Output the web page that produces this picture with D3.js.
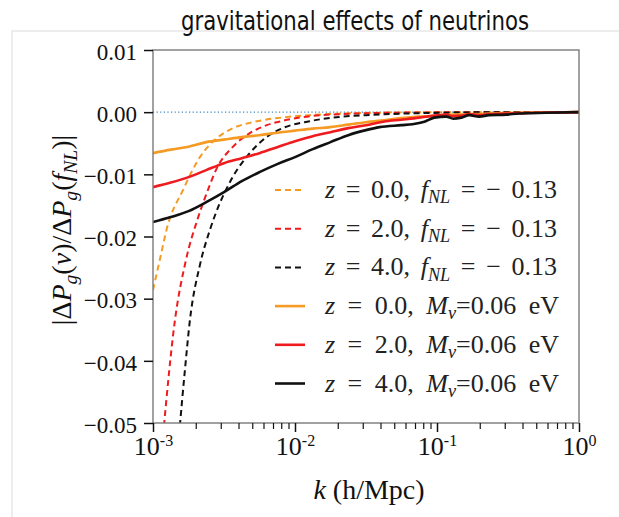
<!DOCTYPE html>
<html>
<head>
<meta charset="utf-8">
<script src="https://cdn.jsdelivr.net/npm/d3@7"></script>
<style>
  body { margin: 0; background: #fff; }
  svg { display: block; }
</style>
</head>
<body>
<svg id="chart" width="619" height="517"></svg>
<script>
// values: k in h/Mpc, y = fractional difference
var kOrangeDash = [0.001, 0.00112, 0.001254, 0.001625, 0.002139, 0.002817, 0.003648, 0.004802, 0.006324, 0.008193, 0.01268, 0.0206, 0.03346, 0.05437, 0.1221, 1];
var vOrangeDash = [-0.02862, -0.02363, -0.01865, -0.01254, -0.00723, -0.00418, -0.00257, -0.00172, -0.00118, -0.00085, -0.00048, -0.00024, -0.00011, -0.00005, 0, 0];

var kRedDash = [0.001176, 0.001428, 0.001706, 0.002071, 0.002434, 0.002817, 0.003648, 0.004802, 0.006324, 0.008193, 0.01268, 0.0206, 0.03346, 0.07513, 0.1984, 1];
var vRedDash = [-0.05209, -0.03344, -0.02379, -0.01704, -0.01254, -0.009, -0.00558, -0.00338, -0.00209, -0.0014, -0.00064, -0.00032, -0.00016, -0.00005, 0, 0];

var kBlackDash = [0.001523, 0.001678, 0.00182, 0.002139, 0.002514, 0.002956, 0.003311, 0.003648, 0.004802, 0.006324, 0.008193, 0.01268, 0.0206, 0.03513, 0.06088, 0.1221, 0.2742, 1];
var vBlackDash = [-0.05209, -0.04148, -0.03344, -0.0246, -0.01897, -0.01463, -0.01222, -0.0104, -0.00659, -0.00397, -0.00257, -0.00145, -0.00076, -0.00043, -0.00021, -0.00008, 0, 0];

var kOrangeSolid = [0.001, 0.001334, 0.001779, 0.002372, 0.003164, 0.00422, 0.005619, 0.007494, 0.01, 0.01334, 0.01778, 0.02371, 0.03162, 0.04198, 0.05618, 0.07513, 0.1, 0.1324, 0.1772, 0.2332, 0.3171, 0.5586, 1];
var vOrangeSolid = [-0.00659, -0.00603, -0.00555, -0.00482, -0.00442, -0.00402, -0.0037, -0.0033, -0.00297, -0.00265, -0.00241, -0.00201, -0.00161, -0.00129, -0.00096, -0.00072, -0.00056, -0.0004, -0.00032, -0.00024, -0.00016, -0.00005, 0];

var kRedSolid = [0.001, 0.001334, 0.001779, 0.002372, 0.003164, 0.00422, 0.005619, 0.007494, 0.01, 0.01334, 0.01778, 0.02371, 0.03162, 0.04198, 0.05618, 0.07513, 0.09579, 0.1163, 0.1302, 0.1483, 0.1687, 0.1984, 0.2332, 0.3071, 0.3789, 0.5864, 1];
var vRedSolid = [-0.01206, -0.01133, -0.01045, -0.00932, -0.0082, -0.0074, -0.00659, -0.00563, -0.00466, -0.00386, -0.00322, -0.00257, -0.00209, -0.00153, -0.00121, -0.00088, -0.00056, -0.0004, -0.00064, -0.00056, -0.00032, -0.00048, -0.00032, -0.00024, -0.00016, -0.00008, 0];

var kBlackSolid = [0.001, 0.001334, 0.001779, 0.002372, 0.003164, 0.00422, 0.005619, 0.007494, 0.01, 0.01334, 0.01778, 0.02371, 0.03162, 0.03935, 0.05618, 0.0671, 0.08149, 0.09579, 0.1163, 0.1302, 0.1483, 0.1687, 0.1984, 0.2332, 0.3071, 0.3789, 0.5864, 1];
var vBlackSolid = [-0.01768, -0.01688, -0.01592, -0.01447, -0.01286, -0.01109, -0.00965, -0.00836, -0.00723, -0.00595, -0.00482, -0.0037, -0.00289, -0.00241, -0.00209, -0.00193, -0.00153, -0.00088, -0.00072, -0.00105, -0.00088, -0.00048, -0.00072, -0.00048, -0.0004, -0.00021, -0.0001, 0];

var yTicks = [0.01, 0.00, -0.01, -0.02, -0.03, -0.04, -0.05];
var xTicks = [0.001, 0.01, 0.1, 1];
var xExponents = ["-3", "-2", "-1", "0"];

var legendRedshift = ["0.0", "2.0", "4.0", "0.0", "2.0", "4.0"];

var orange = "#f59a23", red = "#ee1c1f", black = "#111";

var series = [
    { k: kOrangeDash, v: vOrangeDash, color: orange, dashed: true, kind: "fnl" },
    { k: kRedDash, v: vRedDash, color: red, dashed: true, kind: "fnl" },
    { k: kBlackDash, v: vBlackDash, color: black, dashed: true, kind: "fnl" },
    { k: kOrangeSolid, v: vOrangeSolid, color: orange, dashed: false, kind: "mnu" },
    { k: kRedSolid, v: vRedSolid, color: red, dashed: false, kind: "mnu" },
    { k: kBlackSolid, v: vBlackSolid, color: black, dashed: false, kind: "mnu" }
];

var svg = d3.select("#chart");
var serif = "'Liberation Serif', 'Times New Roman', serif";

// writes a run of pieces into a text element; sub pieces are lowered with dy
function richText(sel, pieces, fs) {
    var shift = 0;
    pieces.forEach(function (p) {
        var t = sel.append("tspan").text(p.t);
        if (p.i) t.style("font-style", "italic");
        var target = p.sub ? fs * 0.2 : 0;
        if (target !== shift) t.attr("dy", target - shift);
        shift = target;
        if (p.sub) t.style("font-size", (fs * 0.7) + "px");
    });
}

// page frame and title
svg.append("rect")
    .attr("x", 12).attr("y", 31)
    .attr("width", 700).attr("height", 600)
    .attr("fill", "none")
    .attr("stroke", "#dcdcdc")
    .attr("stroke-width", 1);

svg.append("text")
    .attr("x", 355).attr("y", 30)
    .attr("text-anchor", "middle")
    .attr("textLength", 348)
    .attr("lengthAdjust", "spacingAndGlyphs")
    .style("font-family", "'DejaVu Sans', sans-serif")
    .style("font-size", "26px")
    .style("fill", "#111")
    .text("gravitational effects of neutrinos");

var plot = { left: 153, right: 579, top: 50, bottom: 423 };

var x = d3.scaleLog()
    .domain([1e-3, 1])
    .range([plot.left, plot.right]);

var y = d3.scaleLinear()
    .domain([-0.05, 0.01])
    .range([plot.bottom, plot.top]);

svg.append("clipPath").attr("id", "clip")
    .append("rect")
    .attr("x", plot.left).attr("y", plot.top)
    .attr("width", plot.right - plot.left)
    .attr("height", plot.bottom - plot.top);

// zero reference line
svg.append("line")
    .attr("x1", x(1e-3)).attr("x2", x(1))
    .attr("y1", y(0)).attr("y2", y(0))
    .attr("stroke", "#3b87c4")
    .attr("stroke-width", 1.2)
    .attr("stroke-dasharray", "1.2,2.4");

var line = d3.line()
    .x(function (d) { return x(d[0]); })
    .y(function (d) { return y(d[1]); })
    .curve(d3.curveMonotoneX);

var curves = svg.append("g").attr("clip-path", "url(#clip)");

series.forEach(function (s) {
    var pts = s.k.map(function (k, i) { return [k, s.v[i]]; });
    curves.append("path")
        .attr("d", line(pts))
        .attr("fill", "none")
        .attr("stroke", s.color)
        .attr("stroke-width", s.dashed ? 2 : 2.6)
        .attr("stroke-dasharray", s.dashed ? "6,4" : null);
});

// frame
svg.append("rect")
    .attr("x", plot.left).attr("y", plot.top)
    .attr("width", plot.right - plot.left)
    .attr("height", plot.bottom - plot.top)
    .attr("fill", "none")
    .attr("stroke", "#7a7a7a")
    .attr("stroke-width", 1.4);

// y axis
var yAxis = d3.axisLeft(y)
    .tickValues(yTicks)
    .tickSize(9)
    .tickPadding(7)
    .tickFormat(function (d) {
        var s = Math.abs(d).toFixed(2);
        return d < -1e-9 ? "\u2212" + s : s;
    });

var gy = svg.append("g")
    .attr("transform", "translate(" + plot.left + ",0)")
    .call(yAxis);
gy.attr("font-family", null).attr("font-size", null);
gy.select(".domain").remove();
gy.selectAll(".tick line").attr("stroke", "#111").attr("stroke-width", 1.5);
gy.selectAll(".tick text")
    .attr("dy", "0.4em")
    .style("font-family", serif)
    .style("font-size", "23px")
    .style("fill", "#111");

// x axis, minor ticks first
var minorTicks = [];
[0.001, 0.01, 0.1].forEach(function (base) {
    for (var m = 2; m <= 9; m++) minorTicks.push(base * m);
});

var gxMinor = svg.append("g")
    .attr("transform", "translate(0," + plot.bottom + ")")
    .call(d3.axisBottom(x).tickValues(minorTicks).tickSize(6).tickFormat(""));
gxMinor.select(".domain").remove();
gxMinor.selectAll(".tick line").attr("stroke", "#111").attr("stroke-width", 1.2);

var gx = svg.append("g")
    .attr("transform", "translate(0," + plot.bottom + ")")
    .call(d3.axisBottom(x).tickValues(xTicks).tickSize(9).tickFormat(""));
gx.select(".domain").remove();
gx.selectAll(".tick line").attr("stroke", "#111").attr("stroke-width", 1.5);

gx.selectAll(".tick").each(function (d, i) {
    var t = d3.select(this).append("text")
        .attr("y", 32)
        .attr("text-anchor", "middle")
        .style("font-family", serif)
        .style("font-size", "26px")
        .style("fill", "#111");
    t.append("tspan").text("10");
    t.append("tspan")
        .attr("dy", "-0.55em")
        .style("font-size", "16px")
        .text(xExponents[i]);
});

// axis titles
var xt = svg.append("text")
    .attr("x", 369).attr("y", 499)
    .attr("text-anchor", "middle")
    .style("font-family", serif)
    .style("font-size", "28px")
    .style("fill", "#111");
richText(xt, [{ t: "k", i: true }, { t: " (h/Mpc)" }], 28);

var yt = svg.append("text")
    .attr("transform", "translate(71,230) rotate(-90)")
    .attr("text-anchor", "middle")
    .style("font-family", serif)
    .style("font-size", "28px")
    .style("fill", "#111");
richText(yt, [
    { t: "|\u0394" }, { t: "P", i: true }, { t: "g", i: true, sub: true },
    { t: "(" }, { t: "\u03bd", i: true }, { t: ")/\u0394" },
    { t: "P", i: true }, { t: "g", i: true, sub: true },
    { t: "(" }, { t: "f", i: true }, { t: "NL", i: true, sub: true }, { t: ")|" }
], 28);

// legend
var legend = svg.append("g");
series.forEach(function (s, i) {
    var by = 198 + i * 38.7;
    legend.append("line")
        .attr("x1", 275).attr("x2", 305)
        .attr("y1", by - 8).attr("y2", by - 8)
        .attr("stroke", s.color)
        .attr("stroke-width", s.dashed ? 2 : 2.6)
        .attr("stroke-dasharray", s.dashed ? "6,4" : null);

    var t = legend.append("text")
        .attr("x", 325).attr("y", by)
        .style("font-family", serif)
        .style("font-size", "26px")
        .style("fill", "#222");
    var pieces = [{ t: "z", i: true }, { t: " = " + legendRedshift[i] + ", " }];
    if (s.kind === "fnl") {
        pieces.push({ t: "f", i: true }, { t: "NL", i: true, sub: true }, { t: " = \u2212 0.13" });
    } else {
        pieces.push({ t: "M", i: true }, { t: "\u03bd", i: true, sub: true }, { t: "=0.06 eV" });
    }
    richText(t, pieces, 26);

    // stretch the word gaps so the entry ends where it does in the figure
    var target = s.kind === "fnl" ? 232 : 234;
    var len = t.node().getComputedTextLength();
    var gaps = t.text().split(" ").length - 1;
    if (gaps > 0 && len < target) t.style("word-spacing", ((target - len) / gaps) + "px");
});
</script>
</body>
</html>
